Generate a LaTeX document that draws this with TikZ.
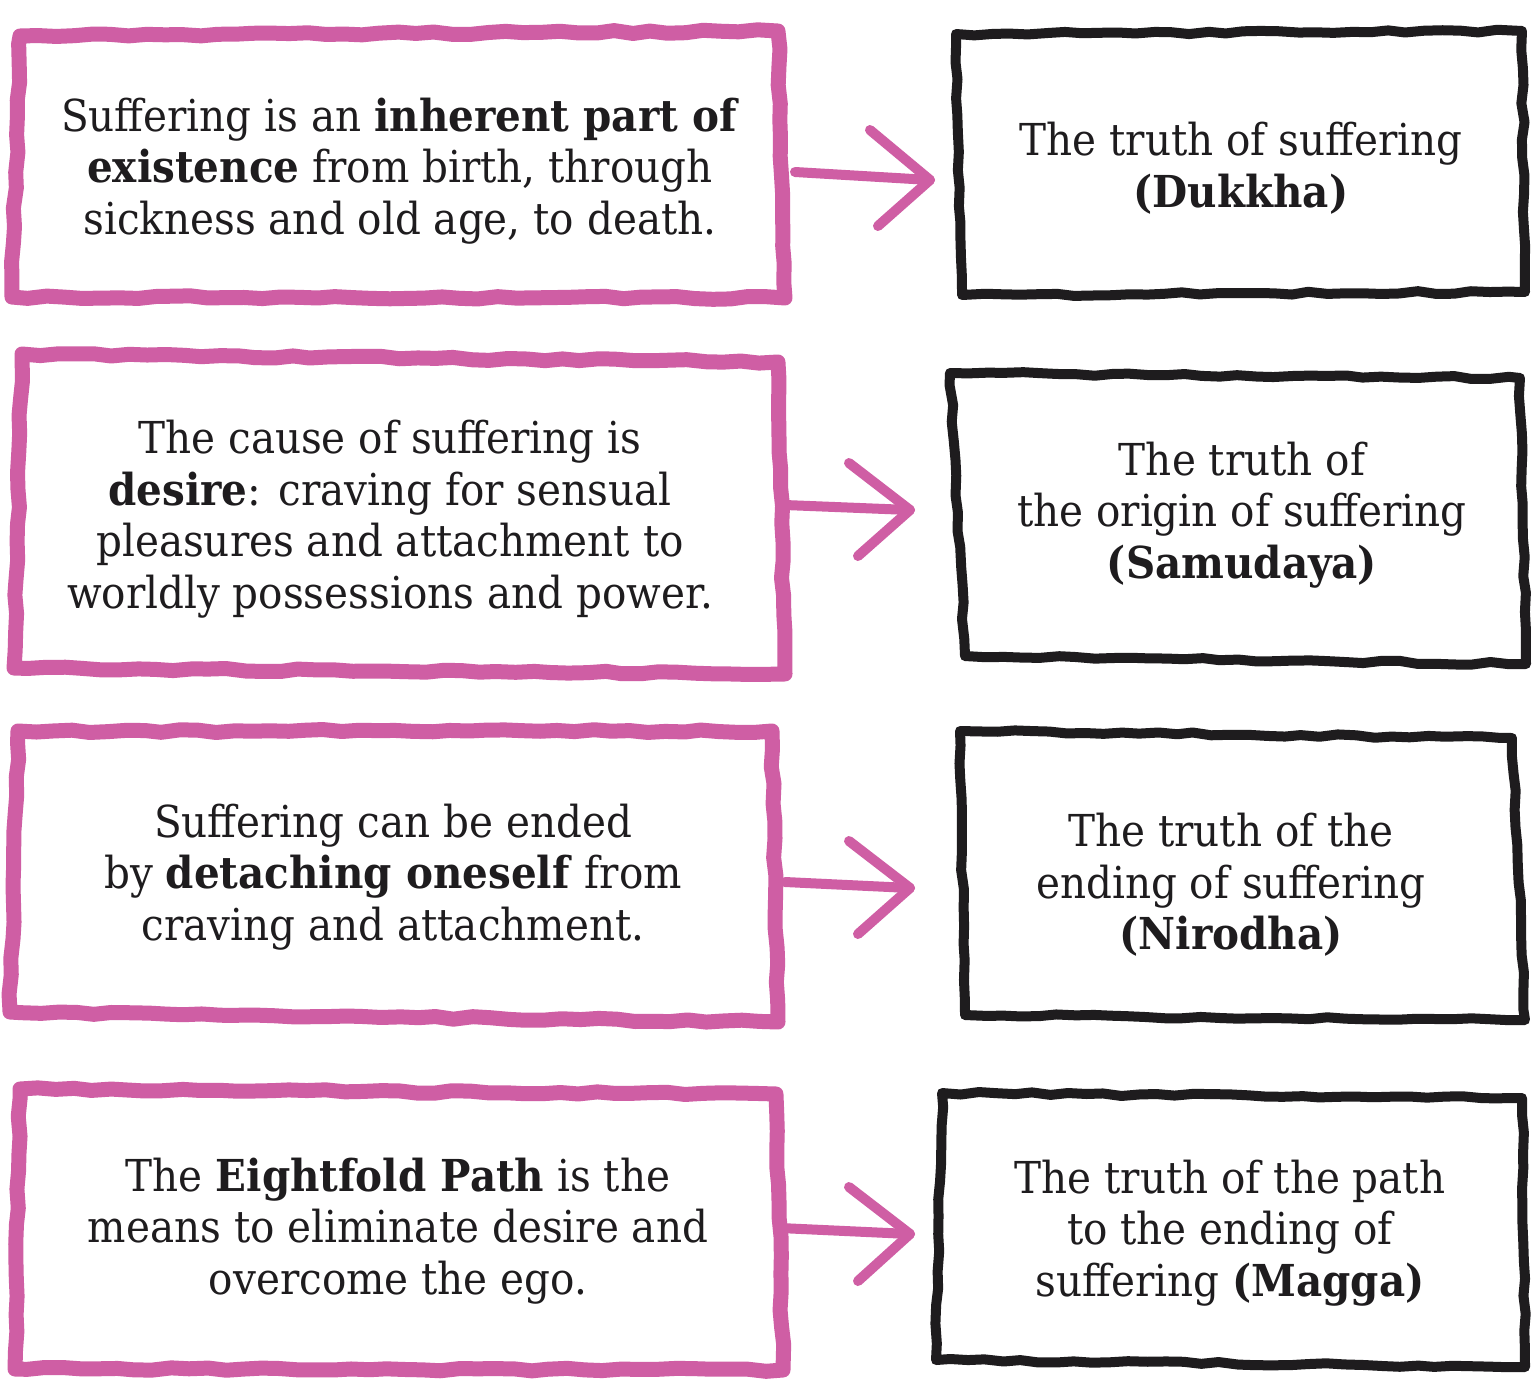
\documentclass[tikz,border=0pt]{standalone}
\usepackage{fontspec}
\setmainfont{DejaVu Serif}[FakeStretch=0.92]
\usetikzlibrary{decorations.pathmorphing}
\definecolor{crayonpink}{RGB}{207,94,164}
\definecolor{crayonblack}{RGB}{30,28,30}
\tikzset{
  pinkbox/.style={draw=crayonpink,line width=15pt,line join=round,line cap=round,
    decorate,decoration={random steps,segment length=18pt,amplitude=1.5pt}},
  blackbox/.style={draw=crayonblack,line width=10pt,line join=round,line cap=round,
    decorate,decoration={random steps,segment length=18pt,amplitude=1.5pt}},
  pinkarrow/.style={draw=crayonpink,line width=10pt,line cap=round,line join=round},
  lefttext/.style={align=center,font=\fontsize{44}{51.5}\selectfont,text=crayonblack},
  righttext/.style={align=center,font=\fontsize{44}{51.5}\selectfont,text=crayonblack},
}
\begin{document}
\begin{tikzpicture}[x=1pt,y=-1pt]
\pgfmathsetseed{7}
\useasboundingbox (0,0) rectangle (1536,1395);
\fill[white] (0,0) rectangle (1536,1395);
% row 1
\draw[pinkbox] (20,36) -- (778,31) -- (785,298) -- (12,297) -- cycle;
\draw[blackbox] (956,34) -- (1522,31) -- (1525,292) -- (962,295) -- cycle;
\node[lefttext] (l1) at (400,171) {Suffering is an \textbf{inherent part of}\\\textbf{existence} from birth, through\\sickness and old age, to death.};
\node[righttext] (r1) at (1241,168) {The truth of suffering\\\textbf{(Dukkha)}};
% row 2
\draw[pinkbox] (22,354) -- (778,362) -- (785,674) -- (14,668) -- cycle;
\draw[blackbox] (950,373) -- (1520,378) -- (1526,664) -- (965,656) -- cycle;
\node[lefttext] (l2) at (390,519) {The cause of suffering is\\\textbf{desire}: craving for sensual\\pleasures and attachment to\\worldly possessions and power.};
\node[righttext] (r2) at (1242,515) {The truth of\\the origin of suffering\\\textbf{(Samudaya)}};
% row 3
\draw[pinkbox] (18,731) -- (772,731) -- (778,1022) -- (10,1012) -- cycle;
\draw[blackbox] (960,731) -- (1512,738) -- (1525,1020) -- (965,1015) -- cycle;
\node[lefttext] (l3) at (393,877) {Suffering can be ended\\by \textbf{detaching oneself} from\\craving and attachment.};
\node[righttext] (r3) at (1231,885) {The truth of the\\ending of suffering\\\textbf{(Nirodha)}};
% row 4
\draw[pinkbox] (20,1089) -- (776,1094) -- (783,1370) -- (15,1369) -- cycle;
\draw[blackbox] (942,1093) -- (1522,1098) -- (1525,1367) -- (936,1360) -- cycle;
\node[lefttext] (l4) at (398,1231) {The \textbf{Eightfold Path} is the\\means to eliminate desire and\\overcome the ego.};
\node[righttext] (r4) at (1230,1233) {The truth of the path\\to the ending of\\suffering \textbf{(Magga)}};
% arrows
\coordinate (a1s) at (795,172); \coordinate (a1e) at (930,180);
\coordinate (a1u) at (870,130); \coordinate (a1d) at (878,226);
\coordinate (a2s) at (785,505); \coordinate (a2e) at (910,510);
\coordinate (a2u) at (849,463); \coordinate (a2d) at (858,556);
\coordinate (a3s) at (785,882); \coordinate (a3e) at (910,888);
\coordinate (a3u) at (849,841); \coordinate (a3d) at (858,934);
\coordinate (a4s) at (780,1228); \coordinate (a4e) at (910,1234);
\coordinate (a4u) at (849,1187); \coordinate (a4d) at (858,1281);
\foreach \i in {1,2,3,4}{
  \draw[pinkarrow] (a\i s) -- (a\i e);
  \draw[pinkarrow] (a\i u) -- (a\i e) -- (a\i d);
}
\end{tikzpicture}
\end{document}
